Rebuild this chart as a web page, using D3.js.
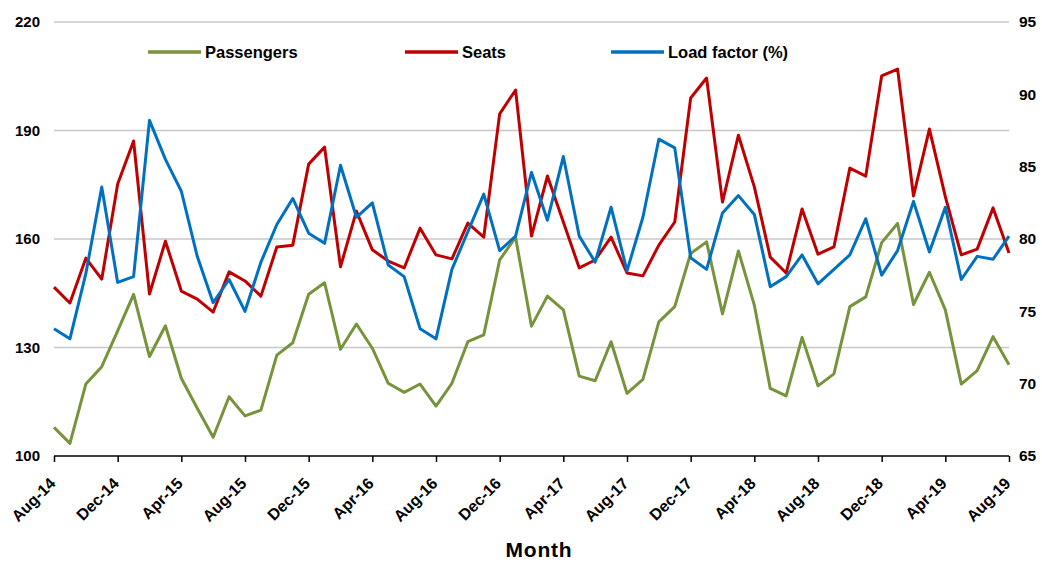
<!DOCTYPE html>
<html><head><meta charset="utf-8">
<script src="https://cdn.jsdelivr.net/npm/d3@7"></script>
<style>
body{margin:0;background:#fff;}
text{font-family:"Liberation Sans",Arial,sans-serif;font-weight:bold;fill:#000;}
</style></head>
<body><svg id="c" width="1042" height="562"></svg>
<script>
const months = (function(){const m=["Jan","Feb","Mar","Apr","May","Jun","Jul","Aug","Sep","Oct","Nov","Dec"];const out=[];let y=14,mo=7;for(let i=0;i<61;i++){out.push(m[mo]+"-"+y);mo++;if(mo>11){mo=0;y++;}}return out;})();
const passengers = [107.9,103.5,119.9,124.7,134.6,144.7,127.5,136.0,121.5,113.2,105.2,116.4,111.1,112.7,127.9,131.3,
 144.7,147.9,129.5,136.5,129.8,120.1,117.6,119.9,113.8,120.1,131.6,133.5,154.2,160.5,135.9,144.2,
 140.4,122.1,120.8,131.6,117.3,121.2,137.1,141.3,156.0,159.2,139.3,156.7,141.7,118.7,116.6,132.8,
 119.4,122.7,141.3,144.0,159.0,164.3,141.9,150.8,140.4,119.9,123.6,133.0,125.2];
const seats = [146.7,142.3,154.7,148.9,175.2,187.1,144.8,159.4,145.6,143.4,139.8,150.9,148.4,144.2,157.8,158.3,
 180.7,185.4,152.3,167.7,157.0,153.9,152.0,163.0,155.6,154.5,164.4,160.5,194.6,201.2,160.8,177.4,
 164.7,152.0,154.2,160.5,150.6,149.8,158.3,164.7,199.0,204.5,170.2,188.7,174.4,155.0,150.6,168.3,
 155.8,157.8,179.6,177.4,205.1,207.0,171.9,190.4,171.7,155.6,157.2,168.6,156.1];
const loadFactor = [73.8,73.1,77.6,83.6,77.0,77.4,88.2,85.5,83.3,78.8,75.6,77.2,75.0,78.4,81.0,82.8,
 80.4,79.7,85.1,81.5,82.5,78.2,77.4,73.8,73.1,77.9,80.5,83.1,79.2,80.2,84.6,81.3,
 85.7,80.2,78.4,82.2,77.8,81.5,86.9,86.3,78.7,77.9,81.8,83.0,81.7,76.7,77.4,78.9,
 76.9,77.9,78.9,81.4,77.5,79.2,82.6,79.1,82.2,77.2,78.8,78.6,80.2];
const leftTicks = [100,130,160,190,220];
const rightTicks = [65,70,75,80,85,90,95];
const xTickLabels = ["Aug-14","Dec-14","Apr-15","Aug-15","Dec-15","Apr-16","Aug-16","Dec-16","Apr-17","Aug-17","Dec-17","Apr-18","Aug-18","Dec-18","Apr-19","Aug-19"];
const seriesNames = ["Passengers","Seats","Load factor (%)"];
const colors = ["#77933C","#C00000","#0070C0"];

const svg = d3.select("#c");
const L=54, R=1009, T=22, B=456;
const x = d3.scalePoint().domain(months).range([L,R]);
const yL = d3.scaleLinear().domain([100,220]).range([B,T]);
const yR = d3.scaleLinear().domain([65,95]).range([B,T]);

// gridlines
svg.append("g").selectAll("line").data(leftTicks.filter(d=>d>100)).join("line")
  .attr("x1",L).attr("x2",R).attr("y1",d=>yL(d)).attr("y2",d=>yL(d))
  .attr("stroke","#c8c8c8").attr("stroke-width",1.5);

// left axis labels
const gl = svg.append("g").attr("transform",`translate(${L},0)`)
  .call(d3.axisLeft(yL).tickValues(leftTicks).tickSize(0).tickPadding(14));
gl.select(".domain").remove();
gl.selectAll("text").style("font-size","15px").style("font-family","Liberation Sans, Arial, sans-serif").style("font-weight","bold");

// right axis labels
const gr = svg.append("g").attr("transform",`translate(${R},0)`)
  .call(d3.axisRight(yR).tickValues(rightTicks).tickSize(0).tickPadding(10));
gr.select(".domain").remove();
gr.selectAll("text").style("font-size","15.5px").style("font-family","Liberation Sans, Arial, sans-serif").style("font-weight","bold");

// x axis
const gx = svg.append("g").attr("transform",`translate(0,${B})`)
  .call(d3.axisBottom(x).tickValues(xTickLabels).tickSize(6).tickSizeOuter(0).tickFormat(""));
gx.select(".domain").attr("stroke","#000").attr("stroke-width",1.5).attr("d",`M${L},0H${R}`);
gx.selectAll(".tick line").attr("stroke","#000").attr("stroke-width",1.5);
svg.append("g").selectAll("text").data(xTickLabels).join("text")
  .attr("transform",d=>`translate(${x(d)-6},${B+20}) rotate(-45)`)
  .attr("text-anchor","end").attr("dy","0.75em")
  .style("font-size","16px").text(d=>d);

// axis title
svg.append("text").attr("x",539).attr("y",557).attr("text-anchor","middle")
  .style("font-size","21px").style("letter-spacing","0.8px").text("Month");

// lines
const lineL = d3.line().x((d,i)=>x(months[i])).y(d=>yL(d));
const lineR = d3.line().x((d,i)=>x(months[i])).y(d=>yR(d));
svg.append("path").datum(passengers).attr("d",lineL).attr("fill","none").attr("stroke",colors[0]).attr("stroke-width",3).attr("stroke-linejoin","round");
svg.append("path").datum(seats).attr("d",lineL).attr("fill","none").attr("stroke",colors[1]).attr("stroke-width",3).attr("stroke-linejoin","round");
svg.append("path").datum(loadFactor).attr("d",lineR).attr("fill","none").attr("stroke",colors[2]).attr("stroke-width",3).attr("stroke-linejoin","round");

// legend
const legX = [148,405,611];
const lg = svg.append("g").selectAll("g").data(seriesNames).join("g")
  .attr("transform",(d,i)=>`translate(${legX[i]},52)`);
lg.append("line").attr("x1",0).attr("x2",53).attr("y1",0).attr("y2",0)
  .attr("stroke",(d,i)=>colors[i]).attr("stroke-width",3.5);
lg.append("text").attr("x",57).attr("y",0).attr("dy","0.35em").style("font-size","16.5px").text(d=>d);
</script></body></html>
